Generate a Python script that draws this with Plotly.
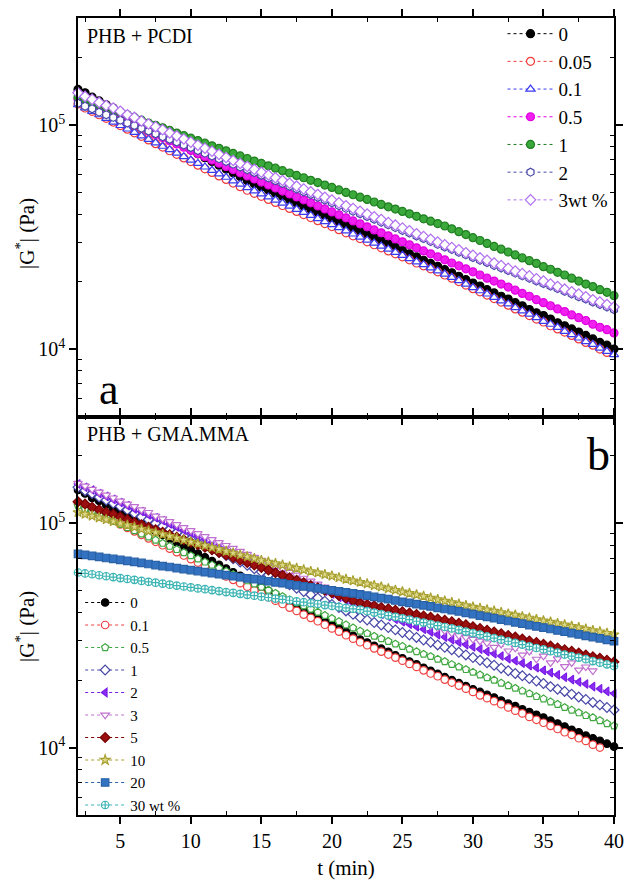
import plotly.graph_objects as go

FONT = "Liberation Serif"

# Sampling times of the time sweep (min)
t_min = [2.0, 2.5, 3.0, 3.5, 4.0, 4.5, 5.0, 5.5, 6.0, 6.5,
         7.0, 7.5, 8.0, 8.5, 9.0, 9.5, 10.0, 10.5, 11.0, 11.5,
         12.0, 12.5, 13.0, 13.5, 14.0, 14.5, 15.0, 15.5, 16.0, 16.5,
         17.0, 17.5, 18.0, 18.5, 19.0, 19.5, 20.0, 20.5, 21.0, 21.5,
         22.0, 22.5, 23.0, 23.5, 24.0, 24.5, 25.0, 25.5, 26.0, 26.5,
         27.0, 27.5, 28.0, 28.5, 29.0, 29.5, 30.0, 30.5, 31.0, 31.5,
         32.0, 32.5, 33.0, 33.5, 34.0, 34.5, 35.0, 35.5, 36.0, 36.5,
         37.0, 37.5, 38.0, 38.5, 39.0, 39.5, 40.0]

# ---------------- PHB + PCDI : |G*| in kPa ----------------
pcdi_labels = ["0", "0.05", "0.1", "0.5", "1", "2", "3wt %"]

pcdi_0 = [144, 139, 133, 128, 123, 119, 114, 110, 106, 101,
          97.6, 93.9, 90.3, 86.8, 83.5, 80.3, 77.2, 74.3, 71.4, 68.7,
          66.1, 63.5, 61.1, 58.8, 56.5, 54.7, 52.9, 51.2, 49.6, 48.0,
          46.5, 45.0, 43.5, 42.1, 40.7, 39.4, 38.2, 36.9, 35.7, 34.6,
          33.5, 32.4, 31.4, 30.4, 29.4, 28.4, 27.5, 26.6, 25.8, 24.9,
          24.1, 23.4, 22.6, 21.9, 21.1, 20.4, 19.7, 19.1, 18.4, 17.8,
          17.2, 16.7, 16.1, 15.6, 15.0, 14.5, 14.1, 13.6, 13.1, 12.7,
          12.3, 11.9, 11.5, 11.1, 10.7, 10.4, 10.0]
pcdi_005 = [124, 119, 115, 111, 107, 103, 99.3, 95.7, 92.2, 88.9,
            85.7, 82.5, 79.6, 76.7, 73.9, 71.2, 68.6, 66.1, 63.7, 61.4,
            59.2, 57.1, 55.0, 53.0, 51.1, 49.5, 48.0, 46.5, 45.1, 43.7,
            42.4, 41.1, 39.8, 38.6, 37.4, 36.3, 35.2, 34.1, 33.0, 32.0,
            31.1, 30.1, 29.2, 28.3, 27.4, 26.6, 25.8, 25.0, 24.2, 23.5,
            22.8, 22.1, 21.4, 20.7, 20.0, 19.3, 18.6, 18.0, 17.4, 16.8,
            16.2, 15.7, 15.1, 14.6, 14.1, 13.6, 13.2, 12.7, 12.3, 11.9,
            11.5, 11.1, 10.7, 10.4, 10.0, 9.66]
pcdi_01 = [123, 119, 115, 111, 107, 103, 99.4, 95.9, 92.6, 89.4,
           86.2, 83.2, 80.3, 77.5, 74.8, 72.2, 69.7, 67.3, 64.9, 62.7,
           60.5, 58.4, 56.3, 54.4, 52.5, 50.8, 49.2, 47.7, 46.2, 44.8,
           43.4, 42.0, 40.7, 39.5, 38.2, 37.0, 35.9, 34.8, 33.7, 32.6,
           31.6, 30.6, 29.7, 28.8, 27.9, 27.0, 26.2, 25.3, 24.5, 23.8,
           23.0, 22.3, 21.6, 20.9, 20.2, 19.5, 18.8, 18.2, 17.6, 17.0,
           16.4, 15.9, 15.3, 14.8, 14.3, 13.8, 13.3, 12.9, 12.5, 12.0,
           11.6, 11.2, 10.8, 10.5, 10.1, 9.77, 9.44]
pcdi_05 = [130, 126, 122, 118, 114, 111, 107, 103, 100, 96.9,
           93.8, 90.7, 87.8, 85.0, 82.2, 79.5, 77.0, 74.5, 72.1, 69.7,
           67.5, 65.3, 63.2, 61.1, 59.2, 57.4, 55.6, 54.0, 52.3, 50.7,
           49.2, 47.7, 46.3, 44.9, 43.5, 42.2, 40.9, 39.7, 38.5, 37.3,
           36.2, 35.1, 34.0, 33.0, 32.0, 31.0, 30.1, 29.2, 28.3, 27.4,
           26.6, 25.8, 25.0, 24.2, 23.5, 22.8, 22.1, 21.4, 20.7, 20.1,
           19.5, 18.9, 18.3, 17.7, 17.2, 16.6, 16.1, 15.6, 15.1, 14.7,
           14.2, 13.8, 13.4, 12.9, 12.5, 12.2, 11.8]
pcdi_1 = [133, 130, 126, 123, 120, 117, 114, 111, 108, 105,
          102, 99.6, 97.0, 94.5, 92.0, 89.7, 87.3, 85.1, 82.9, 80.7,
          78.6, 76.6, 74.6, 72.7, 70.8, 69.0, 67.3, 65.7, 64.1, 62.5,
          61.0, 59.5, 58.1, 56.6, 55.3, 53.9, 52.6, 51.3, 50.0, 48.8,
          47.6, 46.5, 45.3, 44.2, 43.1, 42.1, 41.1, 40.1, 39.1, 38.1,
          37.2, 36.3, 35.4, 34.4, 33.4, 32.4, 31.4, 30.5, 29.6, 28.7,
          27.9, 27.1, 26.3, 25.5, 24.8, 24.1, 23.3, 22.7, 22.0, 21.4,
          20.7, 20.1, 19.5, 19.0, 18.4, 17.9, 17.3]
pcdi_2 = [125, 121, 118, 114, 111, 108, 105, 102, 99.3, 96.5,
          93.8, 91.2, 88.6, 86.2, 83.8, 81.4, 79.2, 76.9, 74.8, 72.7,
          70.7, 68.7, 66.8, 64.9, 63.1, 61.3, 59.6, 58.0, 56.3, 54.8,
          53.2, 51.7, 50.3, 48.9, 47.5, 46.2, 44.9, 43.6, 42.4, 41.2,
          40.1, 39.0, 37.9, 36.8, 35.8, 34.8, 33.8, 32.9, 31.9, 31.1,
          30.2, 29.3, 28.5, 27.8, 27.0, 26.3, 25.6, 24.9, 24.3, 23.6,
          23.0, 22.4, 21.8, 21.2, 20.7, 20.1, 19.6, 19.1, 18.6, 18.1,
          17.6, 17.1, 16.7, 16.2, 15.8, 15.4, 15.0]
pcdi_3 = [139, 134, 130, 126, 122, 119, 115, 111, 108, 104,
          101, 98.1, 95.1, 92.1, 89.3, 86.5, 83.8, 81.2, 78.7, 76.3,
          73.9, 71.6, 69.4, 67.3, 65.2, 63.3, 61.5, 59.8, 58.1, 56.5,
          54.9, 53.3, 51.8, 50.3, 48.9, 47.5, 46.2, 44.9, 43.6, 42.4,
          41.2, 40.0, 38.9, 37.8, 36.7, 35.7, 34.7, 33.7, 32.7, 31.8,
          30.9, 30.0, 29.2, 28.4, 27.7, 26.9, 26.2, 25.5, 24.9, 24.2,
          23.6, 22.9, 22.3, 21.7, 21.2, 20.6, 20.1, 19.5, 19.0, 18.5,
          18.0, 17.6, 17.1, 16.6, 16.2, 15.8, 15.4]

# ---------------- PHB + GMA.MMA : |G*| in kPa ----------------
gma_labels = ["0", "0.1", "0.5", "1", "2", "3", "5", "10", "20", "30 wt %"]

gma_0 = [141, 136, 130, 126, 121, 116, 112, 108, 104, 99.7,
         96.0, 92.4, 88.9, 85.5, 82.3, 79.2, 76.2, 73.4, 70.6, 67.9,
         65.4, 62.9, 60.5, 58.3, 56.1, 54.0, 51.9, 50.0, 48.1, 46.3,
         44.5, 42.9, 41.2, 39.7, 38.2, 36.8, 35.4, 34.0, 32.8, 31.5,
         30.3, 29.4, 28.4, 27.6, 26.7, 25.8, 25.0, 24.2, 23.5, 22.7,
         22.0, 21.3, 20.6, 20.0, 19.4, 18.8, 18.2, 17.7, 17.2, 16.7,
         16.2, 15.7, 15.3, 14.8, 14.4, 14.0, 13.6, 13.2, 12.8, 12.4,
         12.0, 11.7, 11.3, 11.0, 10.7, 10.4, 10.1]
gma_01 = [123, 118, 114, 110, 106, 103, 99.0, 95.5, 92.2, 88.9,
          85.8, 82.8, 79.9, 77.2, 74.5, 71.9, 69.3, 66.9, 64.6, 62.3,
          60.1, 58.0, 56.0, 54.1, 52.2, 50.3, 48.6, 46.9, 45.2, 43.7,
          42.1, 40.7, 39.2, 37.9, 36.6, 35.3, 34.0, 32.9, 31.7, 30.6,
          29.5, 28.6, 27.7, 26.8, 26.0, 25.2, 24.4, 23.6, 22.9, 22.1,
          21.4, 20.8, 20.1, 19.5, 18.9, 18.3, 17.7, 17.1, 16.6, 16.1,
          15.6, 15.1, 14.6, 14.2, 13.7, 13.3, 12.9, 12.5, 12.1, 11.7,
          11.4, 11.0, 10.7, 10.3, 10.0]
gma_05 = [120, 116, 113, 109, 106, 102, 99.1, 95.9, 92.9, 89.9,
          87.1, 84.3, 81.6, 79.1, 76.5, 74.1, 71.8, 69.5, 67.3, 65.2,
          63.1, 61.1, 59.2, 57.3, 55.5, 53.7, 52.0, 50.4, 48.8, 47.2,
          45.7, 44.3, 42.9, 41.5, 40.2, 38.9, 37.7, 36.5, 35.3, 34.2,
          33.1, 32.3, 31.4, 30.6, 29.8, 29.0, 28.3, 27.5, 26.8, 26.1,
          25.5, 24.8, 24.2, 23.5, 22.9, 22.3, 21.7, 21.1, 20.5, 20.0,
          19.4, 18.9, 18.4, 17.9, 17.4, 16.9, 16.5, 16.0, 15.6, 15.1,
          14.7, 14.3, 13.9, 13.6, 13.2, 12.8, 12.5]
gma_1 = [145, 140, 136, 131, 127, 123, 119, 115, 111, 107,
         104, 100, 97.1, 93.9, 90.8, 87.9, 85.0, 82.2, 79.5, 76.8,
         74.3, 71.9, 69.5, 67.2, 65.0, 62.8, 60.8, 58.8, 56.8, 55.0,
         53.2, 51.4, 49.7, 48.1, 46.5, 45.0, 43.5, 42.1, 40.7, 39.3,
         38.0, 37.1, 36.1, 35.2, 34.3, 33.5, 32.6, 31.8, 31.0, 30.2,
         29.5, 28.7, 28.0, 27.3, 26.6, 25.9, 25.2, 24.5, 23.9, 23.3,
         22.6, 22.0, 21.4, 20.9, 20.3, 19.8, 19.3, 18.7, 18.2, 17.8,
         17.3, 16.8, 16.4, 15.9, 15.5, 15.1, 14.7]
gma_2 = [150, 145, 141, 136, 132, 128, 124, 120, 116, 113,
         109, 106, 103, 99.5, 96.4, 93.4, 90.6, 87.8, 85.0, 82.4,
         79.9, 77.4, 75.0, 72.7, 70.5, 68.3, 66.2, 64.1, 62.1, 60.2,
         58.4, 56.6, 54.8, 53.1, 51.5, 49.9, 48.4, 46.9, 45.4, 44.0,
         42.7, 41.5, 40.5, 39.4, 38.4, 37.4, 36.4, 35.5, 34.6, 33.7,
         32.8, 31.9, 31.1, 30.3, 29.5, 28.8, 28.1, 27.5, 26.8, 26.2,
         25.6, 24.9, 24.4, 23.8, 23.2, 22.7, 22.1, 21.6, 21.1, 20.6,
         20.1, 19.6, 19.2, 18.7, 18.3, 17.8, 17.4]
gma_3 = [151, 147, 142, 138, 134, 130, 126, 122, 119, 115,
         112, 108, 105, 102, 98.8, 95.8, 92.9, 90.1, 87.4, 84.8,
         82.2, 79.8, 77.4, 75.1, 72.8, 70.6, 68.5, 66.4, 64.4, 62.5,
         60.6, 58.8, 57.0, 55.3, 53.7, 52.0, 50.5, 49.0, 47.5, 46.1,
         44.7, 43.6, 42.5, 41.5, 40.5, 39.5, 38.5, 37.6, 36.7, 35.8,
         34.9, 34.1, 33.2, 32.4, 31.6, 31.0, 30.4, 29.9, 29.3, 28.0,
         28.9, 27.0, 27.8, 25.9, 26.9, 24.8, 25.6, 23.9, 24.9, 23.0,
         23.9, 22.2, 22.9, 22.0]
gma_5 = [125, 122, 118, 115, 112, 110, 107, 104, 101, 98.7,
         96.2, 93.7, 91.3, 89.0, 86.7, 84.5, 82.3, 80.2, 78.2, 76.2,
         74.2, 72.3, 70.4, 68.6, 66.9, 65.2, 63.5, 61.9, 60.3, 58.7,
         57.2, 55.8, 54.3, 52.9, 51.6, 50.3, 49.0, 47.7, 46.5, 45.3,
         44.1, 43.5, 42.9, 42.2, 41.6, 41.0, 40.4, 39.8, 39.2, 38.6,
         38.1, 37.5, 37.0, 36.4, 35.9, 35.3, 34.6, 34.0, 33.4, 32.8,
         32.2, 31.6, 31.1, 30.5, 29.9, 29.4, 28.9, 28.4, 27.8, 27.3,
         26.9, 26.4, 25.9, 25.4, 25.0, 24.5, 24.1]
gma_10 = [112, 110, 108, 106, 104, 102, 100, 98.2, 96.4, 94.5,
          92.8, 91.0, 89.3, 87.6, 85.9, 84.3, 82.7, 81.2, 79.6, 78.1,
          76.7, 75.2, 73.8, 72.4, 71.0, 69.7, 68.4, 67.3, 66.2, 65.2,
          64.1, 63.1, 62.1, 61.1, 60.2, 59.2, 58.3, 57.3, 56.4, 55.5,
          54.6, 53.8, 52.9, 52.1, 51.2, 50.4, 49.6, 48.8, 48.1, 47.3,
          46.5, 45.8, 45.1, 44.4, 43.7, 43.0, 42.4, 41.8, 41.2, 40.7,
          40.1, 39.5, 39.0, 38.4, 37.9, 37.3, 36.8, 36.3, 35.8, 35.3,
          34.8, 34.3, 33.8, 33.3, 32.9, 32.4, 31.9]
gma_20 = [73.1, 72.4, 71.6, 70.9, 70.1, 69.4, 68.7, 68.0, 67.3, 66.6,
          65.9, 65.2, 64.5, 63.9, 63.2, 62.5, 61.9, 61.3, 60.6, 60.0,
          59.4, 58.8, 58.1, 57.5, 56.9, 56.4, 55.8, 55.2, 54.6, 54.1,
          53.5, 52.9, 52.4, 51.9, 51.3, 50.8, 50.3, 49.7, 49.2, 48.7,
          48.2, 47.6, 47.0, 46.4, 45.9, 45.3, 44.7, 44.2, 43.6, 43.1,
          42.6, 42.0, 41.5, 41.0, 40.5, 39.9, 39.4, 38.8, 38.3, 37.8,
          37.2, 36.7, 36.2, 35.7, 35.2, 34.7, 34.3, 33.8, 33.3, 32.9,
          32.4, 32.0, 31.5, 31.1, 30.7, 30.2, 29.8]
gma_30 = [60.4, 59.8, 59.3, 58.7, 58.1, 57.6, 57.0, 56.5, 56.0, 55.4,
          54.9, 54.4, 53.9, 53.3, 52.8, 52.3, 51.8, 51.3, 50.9, 50.4,
          49.9, 49.4, 49.0, 48.5, 48.0, 47.6, 47.1, 46.7, 46.2, 45.8,
          45.4, 44.9, 44.5, 44.1, 43.7, 43.2, 42.8, 42.4, 42.0, 41.6,
          41.2, 40.6, 40.0, 39.4, 38.8, 38.3, 37.7, 37.2, 36.6, 36.1,
          35.5, 35.0, 34.5, 34.0, 33.5, 32.9, 32.4, 31.9, 31.3, 30.8,
          30.3, 29.8, 29.3, 28.8, 28.3, 27.8, 27.4, 26.9, 26.5, 26.0,
          25.6, 25.2, 24.8, 24.3, 23.9, 23.5, 23.1]

# Tick values / labels
x_major = [5, 10, 15, 20, 25, 30, 35, 40]
x_minor = [2.5, 7.5, 12.5, 17.5, 22.5, 27.5, 32.5, 37.5]
y_major = [1e4, 1e5]
y_major_text = ["10<sup>4</sup>", "10<sup>5</sup>"]
y_minor = [6e3, 7e3, 8e3, 9e3, 2e4, 3e4, 4e4, 5e4, 6e4, 7e4, 8e4, 9e4, 2e5, 3e5]
y_range_log = [3.699, 5.477]

# marker style per series: (symbol, fill, edge)
pcdi_style = [
    ("circle", "black", "black"),
    ("circle", "white", "#f03a3a"),
    ("triangle-up", "white", "#3a3af0"),
    ("circle", "#f020f0", "#e000e0"),
    ("circle", "#3aa83a", "#1f7f1f"),
    ("hexagon", "white", "#4a4aa8"),
    ("diamond", "white", "#b070f0"),
]
gma_style = [
    ("circle", "black", "black"),
    ("circle", "white", "#f04040"),
    ("pentagon", "white", "#40a840"),
    ("diamond", "white", "#4848a8"),
    ("triangle-left", "#8a2cf0", "#7a1ce8"),
    ("triangle-down", "white", "#c070d0"),
    ("diamond", "#9a1010", "#7a0000"),
    ("star", "#dcd888", "#a8a030"),
    ("square", "#3272c0", "#2a62a8"),
    ("circle-cross", "white", "#3cb4b4"),
]

pcdi_sets = [pcdi_0, pcdi_005, pcdi_01, pcdi_05, pcdi_1, pcdi_2, pcdi_3]
gma_sets = [gma_0, gma_01, gma_05, gma_1, gma_2, gma_3, gma_5, gma_10, gma_20, gma_30]

fig = go.Figure()


def add_series(vals_kpa, name, style, xa, ya, legend, size):
    sym, fill, edge = style
    fig.add_trace(go.Scatter(
        x=t_min[:len(vals_kpa)],
        y=[v * 1000 for v in vals_kpa],
        mode="lines+markers",
        name=name,
        xaxis=xa, yaxis=ya, legend=legend,
        cliponaxis=False,
        line=dict(color=edge, width=1, dash="dot"),
        marker=dict(symbol=sym, size=size, color=fill,
                    line=dict(color=edge, width=1.2)),
    ))


for vals, lab, st in zip(pcdi_sets, pcdi_labels, pcdi_style):
    add_series(vals, lab, st, "x2", "y2", "legend", 8)

for vals, lab, st in zip(gma_sets, gma_labels, gma_style):
    add_series(vals, lab, st, "x", "y", "legend2", 7.5)

axis_common = dict(
    showline=True, linecolor="black", linewidth=1.6,
    showgrid=False, zeroline=False,
    ticks="outside", ticklen=7, tickwidth=1.5, tickcolor="black",
    mirror="ticks",
    tickfont=dict(family=FONT, size=20, color="black"),
)

x_common = dict(axis_common, range=[2, 40], tickmode="array", tickvals=x_major,
                minor=dict(tickmode="array", tickvals=x_minor, ticks="inside",
                           ticklen=4, tickwidth=1.3, tickcolor="black"))
y_common = dict(axis_common, type="log", range=y_range_log, tickmode="array",
                tickvals=y_major, ticktext=y_major_text,
                minor=dict(tickmode="array", tickvals=y_minor, ticks="inside",
                           ticklen=4, tickwidth=1.3, tickcolor="black"))

fig.update_layout(
    width=632, height=885,
    margin=dict(l=78, r=9, t=17, b=63),
    paper_bgcolor="white", plot_bgcolor="white",
    font=dict(family=FONT, color="black"),
    showlegend=True,
    xaxis=dict(x_common, domain=[0, 1], anchor="y",
               title=dict(text="t (min)", font=dict(family=FONT, size=21),
                          standoff=10)),
    yaxis=dict(y_common, domain=[0, 0.5], anchor="x"),
    xaxis2=dict(x_common, domain=[0, 1], anchor="y2", matches="x",
                showticklabels=False),
    yaxis2=dict(y_common, domain=[0.5, 1], anchor="x2"),
    legend=dict(x=0.792, y=1.004, xanchor="left", yanchor="top",
                bgcolor="rgba(0,0,0,0)", borderwidth=0, itemwidth=46,
                font=dict(family=FONT, size=19, color="black")),
    legend2=dict(x=0.004, y=0.287, xanchor="left", yanchor="top",
                 bgcolor="rgba(0,0,0,0)", borderwidth=0, itemwidth=40,
                 font=dict(family=FONT, size=15, color="black")),
)

ytitle = "|G<sup>*</sup>| (Pa)"
annotations = [
    dict(text="PHB + PCDI", x=0.0128, y=0.9776, xanchor="left", yanchor="middle",
         font=dict(size=20)),
    dict(text="PHB + GMA.MMA", x=0.0128, y=0.4783, xanchor="left", yanchor="middle",
         font=dict(size=20)),
    dict(text="a", x=0.0587, y=0.534, xanchor="center", yanchor="middle",
         font=dict(size=44)),
    dict(text="b", x=0.972, y=0.452, xanchor="center", yanchor="middle",
         font=dict(size=46)),
    dict(text=ytitle, x=-0.097, y=0.729, xanchor="center", yanchor="middle",
         textangle=-90, font=dict(size=21)),
    dict(text=ytitle, x=-0.097, y=0.236, xanchor="center", yanchor="middle",
         textangle=-90, font=dict(size=21)),
]
for a in annotations:
    a.update(xref="paper", yref="paper", showarrow=False)
    a["font"] = dict(a["font"], family=FONT, color="black")
fig.update_layout(annotations=annotations)

fig.write_html("out.html")
